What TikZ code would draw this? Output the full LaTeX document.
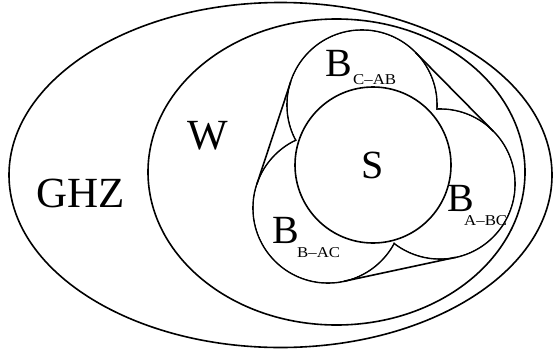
\documentclass[tikz,border=0pt]{standalone}
\usepackage{fontspec}
\setmainfont{Liberation Serif}
\usetikzlibrary{shapes.geometric,calc}
\begin{document}
\begin{tikzpicture}[x=1pt,y=-1pt,
  line/.style={line width=1.6pt},
  oval/.style={line, draw, ellipse, inner sep=0pt, outer sep=0pt},
  bcirc/.style={line, draw, circle, inner sep=0pt, outer sep=0pt, minimum size=150pt},
  big/.style={font=\fontsize{40}{40}\selectfont, inner sep=0pt, anchor=base west},
  bigger/.style={font=\fontsize{43}{43}\selectfont, inner sep=0pt, anchor=base west},
  small/.style={font=\fontsize{15}{15}\selectfont, inner sep=0pt, anchor=base west, xscale=1.12}]
\useasboundingbox (0,0) rectangle (553,356);
\node[oval, minimum width=543pt, minimum height=345pt] (ghz) at (280.5,175) {};
\node[oval, minimum width=377pt, minimum height=306pt] (w) at (336.5,172) {};
% three B circles
\node[bcirc] (bc) at (362,105) {};
\node[bcirc] (ba) at (440,184) {};
\node[bcirc] (bb) at (328,208) {};
% hide inner arcs so only the outline of their union remains
\fill[white] (bc.center) circle[radius=74.1];
\fill[white] (ba.center) circle[radius=74.1];
\fill[white] (bb.center) circle[radius=74.1];
% common tangents
\draw[line] ($(bc.center)!75pt!-90:(bb.center)$) -- ($(bb.center)!75pt!90:(bc.center)$);
\draw[line] ($(bb.center)!75pt!-90:(ba.center)$) -- ($(ba.center)!75pt!90:(bb.center)$);
\draw[line] ($(ba.center)!75pt!-90:(bc.center)$) -- ($(bc.center)!75pt!90:(ba.center)$);
\node[line, draw, circle, inner sep=0pt, outer sep=0pt, minimum size=156pt] (s) at (373,165) {};
% labels
\node[bigger] (tghz) at (36,207) {GHZ};
\node[bigger] (tw) at (187,149) {W};
\node[big] (ts) at (361,178) {S};
\node[big] (tbc) at (325,76) {B};
\node[small] (sbc) at (353,84) {C–AB};
\node[big] (tba) at (447,211) {B};
\node[small] (sba) at (464,225) {A–BC};
\node[big] (tbb) at (272,243) {B};
\node[small] (sbb) at (297,257) {B–AC};
\end{tikzpicture}
\end{document}
